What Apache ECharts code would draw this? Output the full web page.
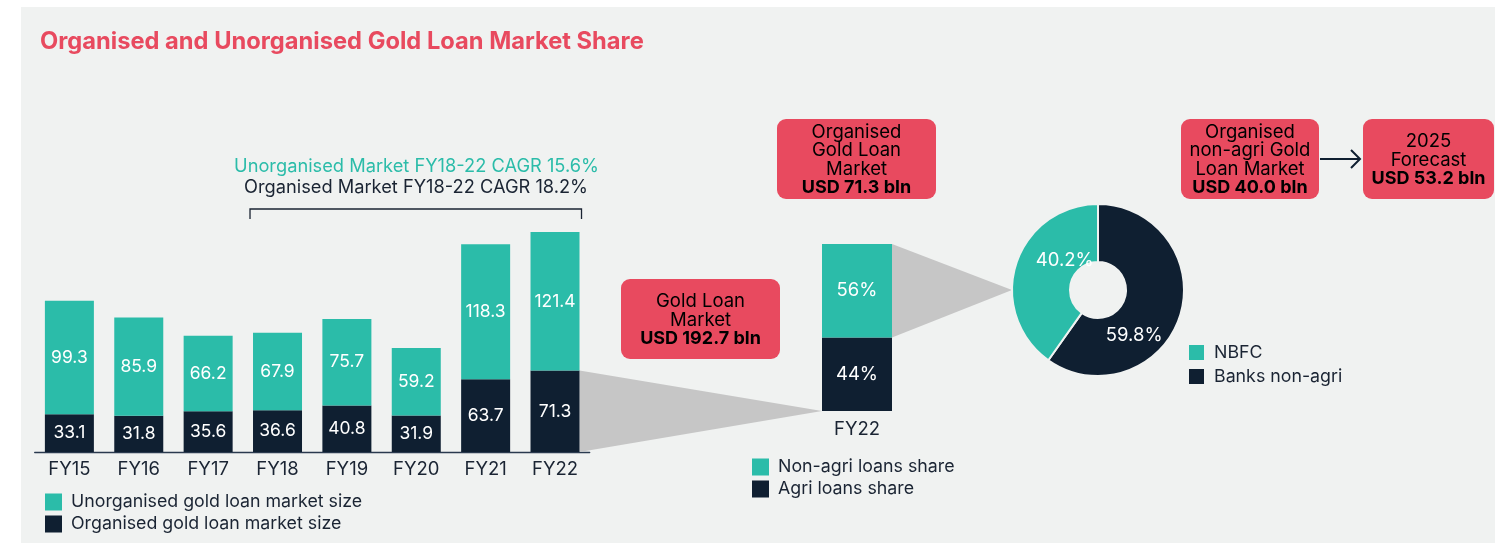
<!DOCTYPE html>
<html>
<head>
<meta charset="utf-8">
<script src="https://cdn.jsdelivr.net/npm/echarts@6/dist/echarts.min.js"></script>
<style>
html,body{margin:0;padding:0;background:#ffffff;}
#bg{position:absolute;left:21px;top:7px;width:1474px;height:536px;background:#f0f2f1;}
#chart{position:absolute;left:0;top:0;width:1495px;height:543px;}
</style>
</head>
<body>
<div id="bg"></div>
<div id="chart"></div>
<script>
// ---- data ----
var years = ['FY15','FY16','FY17','FY18','FY19','FY20','FY21','FY22'];
var organised = [33.1, 31.8, 35.6, 36.6, 40.8, 31.9, 63.7, 71.3];
var unorganised = [99.3, 85.9, 66.2, 67.9, 75.7, 59.2, 118.3, 121.4];
var fy22Category = ['FY22'];
var agriShare = [44];
var nonAgriShare = [56];
var pieNames = ['Banks non-agri', 'NBFC'];
var pieValues = [59.8, 40.2];
var cagrUnorg = 'Unorganised Market FY18-22 CAGR 15.6%';
var cagrOrg = 'Organised Market FY18-22 CAGR 18.2%';

var TEAL = '#2bbca9', DARK = '#0f1f31', RED = '#e84a5f', GREY = '#c6c6c6', TXT = '#1a2433', BG = '#f0f2f1';
var FONT = 'Inter, "Noto Sans", sans-serif';

var chart = echarts.init(document.getElementById('chart'), null, {renderer: 'canvas'});

var legendText = {fontFamily: FONT, fontSize: 17.8, color: TXT, padding: [0, 0, 0, 4]};
var option = {
  animation: false,
  backgroundColor: 'transparent',
  textStyle: {fontFamily: FONT},
  title: {
    text: 'Organised and Unorganised Gold Loan Market Share',
    left: 40, top: 30, padding: 0,
    textStyle: {fontFamily: FONT, fontSize: 23.7, fontWeight: 'bold', color: RED}
  },
  legend: [
    {
      data: ['Unorganised gold loan market size', 'Organised gold loan market size'],
      left: 45, top: 493, padding: 0, orient: 'vertical', itemGap: 4, itemWidth: 17, itemHeight: 17,
      icon: 'rect', selectedMode: false, textStyle: legendText
    },
    {
      data: ['Non-agri loans share', 'Agri loans share'],
      left: 752, top: 458, padding: 0, orient: 'vertical', itemGap: 4, itemWidth: 17, itemHeight: 17,
      icon: 'rect', selectedMode: false, textStyle: legendText
    },
    {
      data: ['NBFC', 'Banks non-agri'],
      left: 1187, top: 343, padding: 0, orient: 'vertical', itemGap: 5, itemWidth: 17, itemHeight: 17,
      icon: 'rect', selectedMode: false, textStyle: legendText
    }
  ],
  grid: [
    {left: 34.7, width: 555, top: 223.6, height: 228.4},
    {left: 822, width: 70, top: 244, height: 167}
  ],
  xAxis: [
    {
      type: 'category', data: years, gridIndex: 0,
      axisLine: {show: true, lineStyle: {color: '#2a3a4f', width: 1.3}},
      axisTick: {show: false},
      axisLabel: {fontFamily: FONT, fontSize: 18.5, color: TXT, margin: 8}
    },
    {
      type: 'category', data: fy22Category, gridIndex: 1,
      axisLine: {show: false}, axisTick: {show: false},
      axisLabel: {fontFamily: FONT, fontSize: 18.5, color: TXT, margin: 9}
    }
  ],
  yAxis: [
    {type: 'value', gridIndex: 0, min: 0, max: 200, show: false, splitLine: {show: false}},
    {type: 'value', gridIndex: 1, min: 0, max: 100, show: false, splitLine: {show: false}}
  ],
  series: [
    {
      name: 'Organised gold loan market size', type: 'bar', stack: 'a',
      xAxisIndex: 0, yAxisIndex: 0, data: organised, barWidth: 49,
      itemStyle: {color: DARK}, z: 3,
      label: {show: true, position: 'inside', color: '#fff', fontSize: 17.5, fontFamily: FONT}
    },
    {
      name: 'Unorganised gold loan market size', type: 'bar', stack: 'a',
      xAxisIndex: 0, yAxisIndex: 0, data: unorganised, barWidth: 49,
      itemStyle: {color: TEAL}, z: 3,
      label: {show: true, position: 'inside', color: '#fff', fontSize: 17.5, fontFamily: FONT}
    },
    {
      name: 'Agri loans share', type: 'bar', stack: 'b',
      xAxisIndex: 1, yAxisIndex: 1, data: agriShare, barWidth: 70,
      itemStyle: {color: DARK}, z: 3,
      label: {show: true, position: 'inside', color: '#fff', fontSize: 18.5, fontFamily: FONT, formatter: '{c}%'}
    },
    {
      name: 'Non-agri loans share', type: 'bar', stack: 'b',
      xAxisIndex: 1, yAxisIndex: 1, data: nonAgriShare, barWidth: 70,
      itemStyle: {color: TEAL}, z: 3,
      label: {show: true, position: 'inside', color: '#fff', fontSize: 18.5, fontFamily: FONT, formatter: '{c}%'}
    },
    {
      name: 'Share', type: 'pie', center: [1098, 290], radius: [28, 86],
      startAngle: 90, clockwise: true, z: 3,
      itemStyle: {borderColor: BG, borderWidth: 2},
      label: {show: true, position: 'inside', color: '#fff', fontSize: 18.5, fontFamily: FONT, formatter: '{c}%'},
      labelLine: {show: false},
      labelLayout: function (p) {
        return p.dataIndex === 0 ? {dx: -10.5, dy: 13.5} : {dx: 12, dy: -5.5};
      },
      data: pieNames.map(function (n, i) {
        return {name: n, value: pieValues[i], itemStyle: {color: i === 0 ? DARK : TEAL}};
      })
    }
  ]
};
chart.setOption(option);

// ---- decorations computed from the chart's own scales ----
var last = years.length - 1;
var barHalf = 49 / 2;
var fx = chart.convertToPixel({xAxisIndex: 0}, years[last]);
var yOrgTop = chart.convertToPixel({yAxisIndex: 0}, organised[last]);
var yBase = chart.convertToPixel({yAxisIndex: 0}, 0);
var mx = chart.convertToPixel({xAxisIndex: 1}, fy22Category[0]);
var mBase = chart.convertToPixel({yAxisIndex: 1}, 0);
var mSplit = chart.convertToPixel({yAxisIndex: 1}, agriShare[0]);
var mTop = chart.convertToPixel({yAxisIndex: 1}, agriShare[0] + nonAgriShare[0]);
var x18 = chart.convertToPixel({xAxisIndex: 0}, years[3]);

function box(x, y, w, h, lines, boldLine) {
  var txt = lines.map(function (l) { return '{w|' + l + '}'; }).join('\n') + '\n{b|' + boldLine + '}';
  return {
    type: 'group', z: 10,
    children: [
      {type: 'rect', shape: {x: x, y: y, width: w, height: h, r: 9}, style: {fill: RED}},
      {type: 'text', x: x + w / 2, y: y + h / 2 + 1,
        style: {
          text: txt, align: 'center', verticalAlign: 'middle',
          rich: {
            w: {fontFamily: FONT, fontSize: 18.5, color: '#fff', lineHeight: 18.5, align: 'center'},
            b: {fontFamily: FONT, fontSize: 18, fontWeight: 'bold', color: DARK, lineHeight: 18.5, align: 'center'}
          }
        }}
    ]
  };
}

var graphics = [
  {type: 'polygon', z: 1, shape: {points: [[fx + barHalf, yOrgTop], [fx + barHalf, yBase], [mx - 35, mBase]]}, style: {fill: GREY}},
  {type: 'polygon', z: 1, shape: {points: [[mx + 35, mTop], [mx + 35, mSplit], [1098 - 86, 290]]}, style: {fill: GREY}},
  {type: 'text', z: 10, x: 416.5, y: 167, style: {text: cagrUnorg, fill: TEAL, fontFamily: FONT, fontSize: 18.25, align: 'center', verticalAlign: 'middle'}},
  {type: 'text', z: 10, x: 416, y: 188, style: {text: cagrOrg, fill: TXT, fontFamily: FONT, fontSize: 18.25, align: 'center', verticalAlign: 'middle'}},
  {type: 'polyline', z: 10, shape: {points: [[x18 - barHalf - 3, 219], [x18 - barHalf - 3, 209], [fx + barHalf + 2, 209], [fx + barHalf + 2, 219]]}, style: {stroke: TXT, lineWidth: 1.3, fill: null}},
  box(621, 279, 159, 80, ['Gold Loan', 'Market'], 'USD 192.7 bln'),
  box(777, 119, 159, 80, ['Organised', 'Gold Loan', 'Market'], 'USD 71.3 bln'),
  box(1181, 119, 138, 80, ['Organised', 'non-agri Gold', 'Loan Market'], 'USD 40.0 bln'),
  box(1363, 119, 131, 80, ['2025', 'Forecast'], 'USD 53.2 bln'),
  {type: 'line', z: 10, shape: {x1: 1320, y1: 159, x2: 1359, y2: 159}, style: {stroke: DARK, lineWidth: 2}},
  {type: 'polyline', z: 10, shape: {points: [[1351, 150], [1360, 159], [1351, 168]]}, style: {stroke: DARK, lineWidth: 2, fill: null}}
];
chart.setOption({graphic: graphics});
</script>
</body>
</html>
